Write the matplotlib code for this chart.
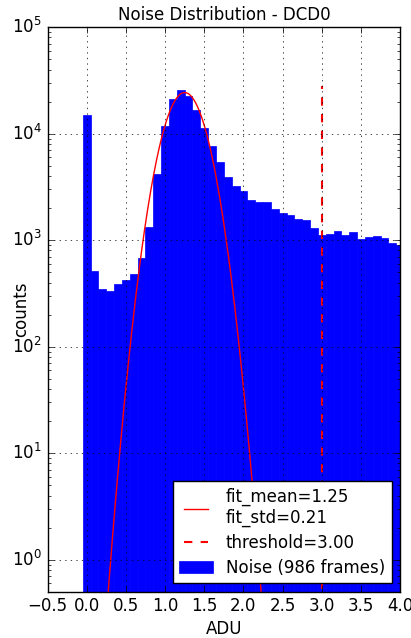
import matplotlib
matplotlib.use("Agg")
import matplotlib.pyplot as plt
import numpy as np

# bin centres (ADU) and counts
bin_centers = [0.0, 0.1, 0.2, 0.3, 0.4, 0.5, 0.6, 0.7, 0.8, 0.9,
               1.0, 1.1, 1.2, 1.3, 1.4, 1.5, 1.6, 1.7, 1.8, 1.9,
               2.0, 2.1, 2.2, 2.3, 2.4, 2.5, 2.6, 2.7, 2.8, 2.9,
               3.0, 3.1, 3.2, 3.3, 3.4, 3.5, 3.6, 3.7, 3.8, 3.9, 4.0]
counts = [15000, 515, 346, 334, 386, 421, 486, 673, 1337, 4190,
          11700, 21100, 25500, 22400, 16800, 11400, 7620, 5470, 3950, 3200,
          2880, 2390, 2260, 2300, 1945, 1811, 1722, 1591, 1556, 1290,
          1117, 1141, 1225, 1117, 1183, 1024, 1077, 1100, 1047, 931, 905]
bin_width = 0.1

fit_mean = 1.25
fit_std = 0.21
fit_amp = 24300
threshold = 3.00
n_frames = 986

plt.style.use("classic")
fig = plt.figure(figsize=(4.11, 6.38), dpi=100)
ax = fig.add_axes([0.1156, 0.0725, 0.858, 0.885])

ax.bar(bin_centers, counts, width=bin_width, align="center",
       color="b", edgecolor="b", linewidth=0.5,
       label=f"Noise ({n_frames} frames)")

xs = np.linspace(-0.5, 4.0, 600)
ax.plot(xs, fit_amp * np.exp(-(xs - fit_mean) ** 2 / (2 * fit_std ** 2)),
        color="r", linewidth=1,
        label=f"fit_mean={fit_mean:.2f}\nfit_std={fit_std:.2f}")
ax.vlines(threshold, 0, max(counts) * 1.1, colors="r", linestyles="--",
          linewidth=1.5, label=f"threshold={threshold:.2f}")

ax.set_yscale("log")
ax.set_xlim(-0.5, 4.0)
ax.set_ylim(0.5, 1e5)
ax.set_xticks(np.arange(-0.5, 4.01, 0.5))
ax.grid(True)
ax.set_xlabel("ADU")
ax.set_ylabel("counts")
ax.xaxis.set_label_coords(0.5, -0.05)
ax.yaxis.set_label_coords(-0.05, 0.5)
ax.set_title("Noise Distribution - DCD0", fontsize=12)
ax.legend(loc="lower right", fontsize=12, labelspacing=0.4)

fig.savefig("out.png", dpi=100)
